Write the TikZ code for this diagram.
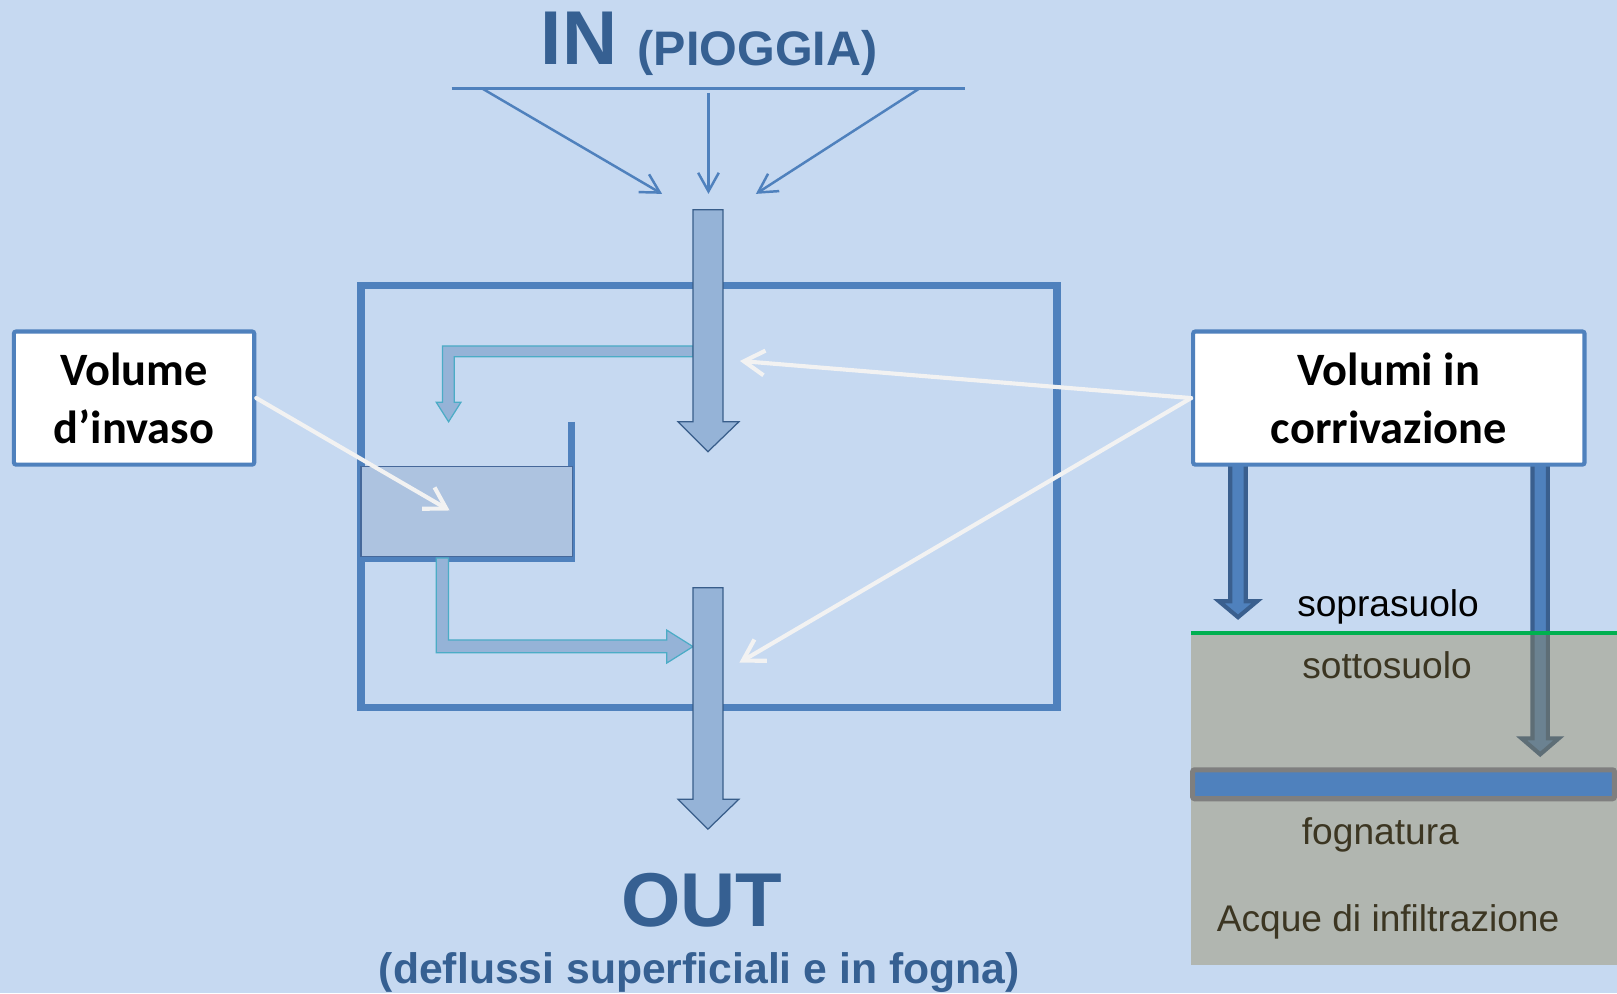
\documentclass[tikz,border=0pt]{standalone}
\usepackage{fontspec}
\setmainfont{Liberation Sans}
\newfontfamily\boxfont{Carlito}
\usetikzlibrary{arrows.meta}

\definecolor{bg}{HTML}{C6D9F1}
\definecolor{mainblue}{HTML}{4F81BD}
\definecolor{titleblue}{HTML}{366092}
\definecolor{flowfill}{HTML}{95B3D7}
\definecolor{flowline}{HTML}{385D8A}
\definecolor{branchline}{HTML}{4BACC6}
\definecolor{tankfill}{HTML}{ADC3E0}
\definecolor{tankline}{HTML}{46689A}
\definecolor{callout}{HTML}{F2F2F2}
\definecolor{soil}{RGB}{147,132,84}
\definecolor{grassline}{HTML}{00B050}
\definecolor{pipeedge}{HTML}{7F7F7F}
\definecolor{dropline}{HTML}{3A5F8E}

\tikzset{
  rainarrow/.style={draw=mainblue, line width=1.2pt, -{Straight Barb[length=9pt,width=10pt]}},
  calloutarrow/.style={draw=callout, line width=2pt, line cap=round,
    -{Straight Barb[length=10pt,width=12pt]}},
  flowarrow/.style={fill=flowfill, draw=flowline, line width=0.6pt},
  brancharrow/.style={fill=flowfill, draw=branchline, line width=0.6pt},
  droparrow/.style={fill=mainblue, draw=dropline, line width=2pt},
  labelbox/.style={draw=mainblue, fill=white, line width=2pt, rounded corners=1pt,
    align=center, inner sep=0pt, minimum height=64.5pt,
    font=\boxfont\bfseries\fontsize{22.5}{28}\selectfont},
  soiltext/.style={anchor=base, inner sep=0pt, font=\fontsize{18}{21}\selectfont},
  bigtitle/.style={anchor=base, inner sep=0pt, text=titleblue, font=\bfseries}
}

\begin{document}
\begin{tikzpicture}[x=0.5pt,y=-0.5pt]
% canvas
\fill[bg] (0,0) rectangle (1568,963);
\useasboundingbox (0,0) rectangle (1568,963);

% rainfall input
\node[bigtitle, anchor=base west] (intitle) at (524,63) {\fontsize{37}{40}\selectfont IN};
\node[bigtitle, anchor=base west] (inrain) at (618,64) {\fontsize{23.5}{27}\selectfont (PIOGGIA)};
\coordinate (rainL) at (438,85.5);
\coordinate (rainR) at (936,85.5);
\draw[mainblue, line width=1.3pt] (rainL) -- (rainR);
\coordinate (r1s) at (467,85.5);  \coordinate (r1e) at (642,188);
\coordinate (r2s) at (687,90);    \coordinate (r2e) at (687,188);
\coordinate (r3s) at (892,85.5);  \coordinate (r3e) at (733,188);
\draw[rainarrow] (r1s) -- (r1e);
\draw[rainarrow] (r2s) -- (r2e);
\draw[rainarrow] (r3s) -- (r3e);

% system boundary
\draw[mainblue, line width=3.5pt] (350,277) rectangle (1025,686);

% storage tank
\draw[mainblue, line width=3.5pt] (554.5,409) -- (554.5,541.5) -- (350,541.5);
\draw[fill=tankfill, draw=tankline, line width=0.6pt] (350,452.5) rectangle (555,540);

% branch into the tank
\draw[brancharrow] (672,335.5) -- (429,335.5) -- (429,390) -- (423,390) -- (435,409)
  -- (447,390) -- (440.5,390) -- (440.5,346) -- (672,346) -- cycle;

% main inflow
\draw[flowarrow] (672,203.5) -- (701,203.5) -- (701,409) -- (716.5,409) -- (686.5,438)
  -- (657.5,409) -- (672,409) -- cycle;

% tank release
\draw[brancharrow] (423,541) -- (423,633) -- (646.5,633) -- (646.5,643) -- (672,627)
  -- (646.5,611) -- (646.5,620.5) -- (435,620.5) -- (435,541) -- cycle;

% main outflow
\draw[flowarrow] (672,570) -- (701,570) -- (701,775) -- (716.5,775) -- (686.5,804)
  -- (657.5,775) -- (672,775) -- cycle;

% output label
\node[bigtitle] (outtitle) at (680.5,898) {\fontsize{37}{40}\selectfont OUT};
\node[bigtitle] (outnote) at (678,954) {\fontsize{20.7}{24}\selectfont (deflussi superficiali e in fogna)};

% runoff volumes falling to surface and subsoil
\draw[droparrow] (1193,445) -- (1208,445) -- (1208,583) -- (1219,583) -- (1200.5,598.5)
  -- (1182,583) -- (1193,583) -- cycle;
\draw[droparrow] (1486,445) -- (1501,445) -- (1501,716) -- (1511.5,716) -- (1493.5,731.5)
  -- (1475.5,716) -- (1486,716) -- cycle;

% labels
\node[labelbox, minimum width=116.5pt] (invaso) at (130,386) {Volume\\d’invaso};
\node[labelbox, minimum width=189.75pt] (corriv) at (1346.75,386) {Volumi in\\corrivazione};

% soil section
\node[soiltext] (sopra) at (1346,598) {soprasuolo};
\node[soiltext] (sotto) at (1345,657.5) {sottosuolo};
\node[soiltext] (fogna) at (1338.5,818.5) {fognatura};
\node[soiltext] (infiltr) at (1346,903.5) {Acque di infiltrazione};
\fill[soil, fill opacity=0.41] (1155,613.5) rectangle (1568,936);
\draw[grassline, line width=2pt] (1155,613.5) -- (1568,613.5);
\draw[fill=mainblue, draw=pipeedge, line width=2.5pt, rounded corners=1pt]
  (1156.5,746.5) rectangle (1565.5,774.5);

% callout pointers
\coordinate (tankpt) at (436,495);
\coordinate (flowA) at (717.5,350);
\coordinate (flowB) at (717,642.5);
\draw[calloutarrow] (invaso.east) -- (tankpt);
\draw[calloutarrow] (corriv.west) -- (flowA);
\draw[calloutarrow] (corriv.west) -- (flowB);
\end{tikzpicture}
\end{document}
